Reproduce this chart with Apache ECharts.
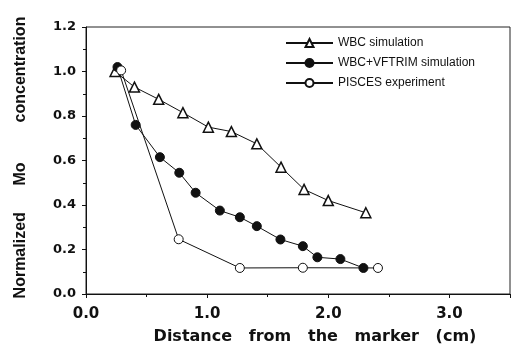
<!DOCTYPE html>
<html>
<head>
<meta charset="utf-8">
<script src="https://cdn.jsdelivr.net/npm/echarts@6/dist/echarts.min.js"></script>
<style>
  html, body { margin: 0; padding: 0; background: #fff; }
  #chart { width: 513px; height: 351px; }
</style>
</head>
<body>
<div id="chart"></div>
<script>
  // data (x in cm, y normalized)
  var wbcX = [0.24, 0.40, 0.60, 0.80, 1.01, 1.20, 1.41, 1.61, 1.80, 2.00, 2.31]
  var wbcY = [1.00, 0.93, 0.875, 0.815, 0.75, 0.73, 0.675, 0.57, 0.47, 0.42, 0.365]

  var vftX = [0.26, 0.41, 0.61, 0.77, 0.905, 1.105, 1.27, 1.41, 1.605, 1.79, 1.91, 2.10, 2.29]
  var vftY = [1.02, 0.76, 0.615, 0.545, 0.455, 0.375, 0.345, 0.305, 0.245, 0.215, 0.165, 0.157, 0.117]

  var piscesX = [0.29, 0.765, 1.27, 1.79, 2.41]
  var piscesY = [1.005, 0.246, 0.117, 0.118, 0.117]

  var seriesNames = ['WBC simulation', 'WBC+VFTRIM simulation', 'PISCES experiment']
  var xTicks = ['0.0', '1.0', '2.0', '3.0']

  function pairs(xs, ys) {
    return xs.map(function (x, i) { return [x, ys[i]] })
  }

  var chart = echarts.init(document.getElementById('chart'))

  var option = {
    animation: false,
    backgroundColor: '#fff',
    grid: {
      left: 86,
      right: 2,
      top: 27,
      bottom: 57,
      show: true,
      borderColor: '#222',
      borderWidth: 1
    },
    legend: {
      data: seriesNames,
      orient: 'vertical',
      left: 280,
      top: 32,
      itemWidth: 47,
      itemHeight: 10,
      itemGap: 8,
      textStyle: {
        fontFamily: 'Liberation Sans',
        fontSize: 12,
        color: '#111'
      }
    },
    xAxis: {
      type: 'value',
      min: 0,
      max: 3.5,
      interval: 1,
      name: 'Distance   from   the   marker   (cm)',
      nameLocation: 'middle',
      nameGap: 35,
      nameTextStyle: {
        fontFamily: 'DejaVu Sans',
        fontWeight: 'bold',
        fontSize: 16,
        color: '#111',
        padding: [0, 0, 0, 34]
      },
      axisLine: { lineStyle: { color: '#111', width: 1 } },
      axisTick: { show: true, length: 4, lineStyle: { color: '#111' } },
      minorTick: { show: true, splitNumber: 2, length: 3, lineStyle: { color: '#111' } },
      splitLine: { show: false },
      axisLabel: {
        margin: 13,
        fontFamily: 'DejaVu Sans',
        fontWeight: 'bold',
        fontSize: 15,
        color: '#111',
        formatter: function (v) {
          return xTicks[Math.round(v)] || ''
        }
      }
    },
    yAxis: {
      type: 'value',
      min: 0,
      max: 1.2,
      interval: 0.2,
      name: 'Normalized      Mo         concentration',
      nameLocation: 'middle',
      nameGap: 57,
      nameTextStyle: {
        fontFamily: 'Liberation Sans',
        fontWeight: 'bold',
        fontSize: 16,
        color: '#111',
        padding: [0, 0, 0, 6]
      },
      axisLine: { show: true, lineStyle: { color: '#111', width: 1 } },
      axisTick: { show: true, length: 4, lineStyle: { color: '#111' } },
      minorTick: { show: true, splitNumber: 2, length: 3, lineStyle: { color: '#111' } },
      splitLine: { show: false },
      axisLabel: {
        margin: 10,
        fontFamily: 'DejaVu Sans',
        fontWeight: 'bold',
        fontSize: 13,
        color: '#111',
        formatter: function (v) { return v.toFixed(1) }
      }
    },
    series: [
      {
        name: seriesNames[0],
        type: 'line',
        data: pairs(wbcX, wbcY),
        symbol: 'triangle',
        symbolSize: 10,
        lineStyle: { color: '#111', width: 1 },
        itemStyle: { color: '#fff', borderColor: '#111', borderWidth: 1.5 }
      },
      {
        name: seriesNames[1],
        type: 'line',
        data: pairs(vftX, vftY),
        symbol: 'circle',
        symbolSize: 9,
        lineStyle: { color: '#111', width: 1 },
        itemStyle: { color: '#111', borderColor: '#111', borderWidth: 1 }
      },
      {
        name: seriesNames[2],
        type: 'line',
        data: pairs(piscesX, piscesY),
        symbol: 'circle',
        symbolSize: 9,
        lineStyle: { color: '#111', width: 1 },
        itemStyle: { color: '#fff', borderColor: '#111', borderWidth: 1 }
      }
    ]
  }

  chart.setOption(option)
</script>
</body>
</html>
